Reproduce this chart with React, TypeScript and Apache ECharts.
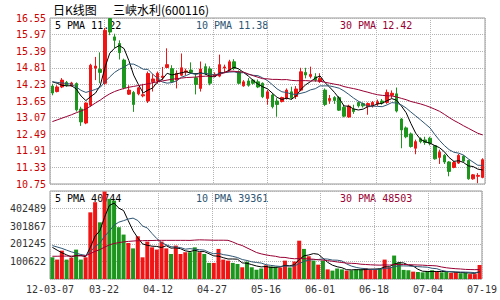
import React, { useEffect, useRef } from "react";
import * as echarts from "echarts";

// trading days 2012-03-07 .. 2012-07-19
const monthDays: [string, number[]][] = [
  ["03", [7, 8, 9, 12, 13, 14, 15, 16, 19, 20, 21, 22, 23, 26, 27, 28, 29, 30]],
  ["04", [5, 6, 9, 10, 11, 12, 13, 16, 17, 18, 19, 20, 23, 24, 25, 26, 27]],
  ["05", [2, 3, 4, 7, 8, 9, 10, 11, 14, 15, 16, 17, 18, 21, 22, 23, 24, 25, 28, 29, 30, 31]],
  ["06", [1, 4, 5, 6, 7, 8, 11, 12, 13, 14, 15, 18, 19, 20, 21, 25, 26, 27, 28, 29]],
  ["07", [2, 3, 4, 5, 6, 9, 10, 11, 12, 13, 16, 17, 18, 19]],
];

const xTickLabels = ["12-03-07", "03-22", "04-12", "04-27", "05-16", "06-01", "06-18", "07-04", "07-19"];
const priceTicks = ["10.75", "11.33", "11.91", "12.49", "13.07", "13.65", "14.23", "14.81", "15.39", "15.97", "16.55"];
const volTicks = ["", "100622", "201245", "301867", "402489", ""];

const opens = [
  14.17, 13.98, 14.14, 14.30, 14.18, 14.26, 13.37, 12.88, 13.50, 14.80,
  14.76, 14.27, 16.53, 15.89, 15.66, 15.08, 13.89, 13.95, 13.90, 13.83,
  13.65, 14.32, 14.35, 14.47, 14.82, 14.78, 14.38, 14.55, 14.66, 14.73,
  14.46, 14.09, 14.85, 14.77, 14.53, 14.52, 14.80, 14.73, 15.02, 14.67,
  14.18, 14.35, 14.38, 14.32, 14.27, 13.74, 13.86, 13.65, 13.63, 13.74,
  13.97, 13.81, 14.03, 14.65, 14.51, 14.50, 14.33, 14.03, 13.67, 13.77,
  13.77, 13.43, 13.09, 13.37, 13.60, 13.56, 13.45, 13.48, 13.55, 13.65,
  13.60, 13.85, 13.90, 13.02, 12.71, 12.50, 12.00, 12.33, 12.29, 12.35,
  12.09, 11.68, 11.75, 11.52, 11.33, 11.48, 11.72, 11.57, 10.93, 11.02, 10.98,
];
const closes = [
  13.93, 14.14, 14.38, 14.20, 14.28, 13.34, 12.92, 13.58, 14.90, 14.87,
  14.65, 16.12, 16.06, 15.77, 15.34, 14.11, 14.03, 13.53, 14.11, 13.87,
  14.61, 14.42, 14.62, 14.52, 14.92, 14.32, 14.61, 14.81, 14.70, 14.65,
  14.23, 14.77, 14.62, 14.27, 14.58, 14.92, 14.84, 15.02, 14.79, 14.27,
  14.32, 14.20, 14.27, 14.14, 13.80, 13.97, 13.45, 13.53, 13.77, 14.03,
  13.76, 14.07, 14.67, 14.56, 14.58, 14.38, 14.44, 13.53, 13.74, 13.67,
  13.33, 13.12, 13.47, 13.28, 13.48, 13.48, 13.56, 13.60, 13.62, 13.58,
  13.95, 13.92, 13.30, 12.64, 12.40, 12.06, 12.23, 12.23, 12.20, 12.17,
  11.63, 11.86, 11.52, 11.19, 11.50, 11.75, 11.55, 10.93, 11.07, 11.05, 11.60,
];
const highs = [
  14.25, 14.20, 14.45, 14.35, 14.32, 14.30, 13.45, 13.60, 14.95, 15.19,
  15.35, 16.20, 16.55, 16.00, 15.77, 15.13, 14.20, 14.00, 14.15, 14.25,
  14.68, 14.59, 14.68, 14.84, 15.49, 14.90, 14.72, 15.31, 14.78, 15.00,
  14.62, 15.03, 14.96, 14.86, 14.65, 15.27, 14.92, 15.09, 15.11, 14.72,
  14.38, 14.45, 14.42, 14.40, 14.30, 14.04, 13.92, 13.75, 13.80, 14.09,
  14.15, 14.17, 14.81, 14.81, 14.85, 14.62, 14.62, 14.09, 13.86, 13.82,
  13.82, 13.52, 13.52, 13.52, 13.65, 13.60, 13.60, 13.65, 13.70, 13.72,
  14.05, 14.02, 14.12, 13.05, 12.76, 12.55, 12.30, 12.38, 12.40, 12.40,
  12.10, 11.95, 11.80, 11.55, 11.55, 11.80, 11.76, 11.60, 11.10, 11.13, 11.65,
];
const lows = [
  13.85, 13.95, 14.10, 14.15, 14.15, 13.28, 12.78, 12.84, 13.45, 14.38,
  14.27, 14.20, 15.95, 15.50, 15.10, 14.06, 13.86, 13.27, 13.85, 13.78,
  13.58, 13.98, 14.25, 14.38, 14.80, 14.28, 14.09, 14.52, 14.55, 14.60,
  13.88, 13.98, 14.56, 14.20, 14.50, 14.48, 14.62, 14.68, 14.73, 14.23,
  14.15, 14.15, 14.22, 14.10, 13.75, 13.52, 13.39, 13.10, 13.60, 13.70,
  13.70, 13.72, 13.99, 14.44, 14.44, 14.32, 14.28, 13.47, 13.55, 13.55,
  13.30, 13.08, 13.06, 13.20, 13.42, 13.42, 13.17, 13.42, 13.48, 13.52,
  13.55, 13.75, 13.25, 12.00, 12.35, 12.02, 11.79, 12.17, 12.12, 12.10,
  11.60, 11.45, 11.45, 11.02, 11.30, 11.45, 11.50, 10.90, 10.90, 10.78, 10.95,
];
const volumes = [
  124000, 111000, 162000, 111000, 122000, 168000, 111000, 124000, 381000, 439000,
  324000, 500000, 458000, 448000, 296000, 254000, 206000, 175000, 244000, 124000,
  214000, 181000, 168000, 214000, 175000, 143000, 191000, 143000, 153000, 153000,
  181000, 153000, 143000, 92000, 92000, 172000, 111000, 105000, 92000, 86000,
  67000, 99000, 67000, 53000, 60000, 78000, 72000, 70000, 66000, 105000,
  66000, 100000, 219000, 172000, 130000, 105000, 82000, 105000, 55000, 48000,
  60000, 55000, 48000, 50000, 55000, 55000, 62000, 58000, 55000, 60000,
  111000, 67000, 134000, 95000, 52000, 50000, 42000, 40000, 38000, 45000,
  50000, 42000, 38000, 40000, 35000, 38000, 33000, 35000, 28000, 28000, 80000,
];

// moving-average values at the start of the window (history before 03-07)
const priceMa5Lead = [14.32, 14.27, 14.2, 14.18];
const priceMa10Lead = [14.32, 14.3, 14.28, 14.26, 14.24, 14.14, 14.02, 13.95, 14.0];
const priceMa30Lead = [
  12.93, 12.99, 13.05, 13.11, 13.17, 13.24, 13.3, 13.37, 13.47, 13.58,
  13.68, 13.8, 13.9, 13.98, 14.04, 14.09, 14.13, 14.16, 14.19, 14.22,
  14.25, 14.29, 14.32, 14.35, 14.38, 14.41, 14.43, 14.45, 14.47,
];
const volMa5Lead = [181000, 165000, 150000, 138000];
const volMa10Lead = [191000, 183000, 175000, 165000, 155000, 148000, 140000, 135000, 156000];
const volMa30Lead = [
  130000, 130000, 131000, 131000, 131000, 132000, 132000, 133000, 145000, 158000,
  168000, 182000, 195000, 203000, 208000, 212000, 215000, 217000, 219000, 219000,
  220000, 220000, 221000, 221000, 221000, 221000, 221000, 221000, 221000,
];

const priceLegend = ["5 PMA 11.22", "10 PMA 11.38", "30 PMA 12.42"];
const volLegend = ["5 PMA 40744", "10 PMA 39361", "30 PMA 48503"];

const UP = "#f01414";
const DOWN = "#1c961c";
const MA5C = "#000000";
const MA10C = "#2e5573";
const MA30C = "#990033";
const MONO = '"DejaVu Sans Mono", monospace';

function movingAvg(vals: number[], n: number, lead: number[]): number[] {
  return vals.map((_, i) => {
    if (i < n - 1) return lead[i];
    let s = 0;
    for (let k = i - n + 1; k <= i; k++) s += vals[k];
    return +(s / n).toFixed(n > 1000 ? 0 : 4);
  });
}

export default function App() {
  const ref = useRef<HTMLDivElement>(null);
  useEffect(() => {
    if (!ref.current) return;
    document.body.style.margin = "0";
    const chart = echarts.init(ref.current, null, { renderer: "svg" });
    const dates: string[] = [];
    monthDays.forEach(([m, ds]) => ds.forEach((d) => dates.push(m + "-" + String(d).padStart(2, "0"))));
    const candles = opens.map((o, i) => [o, closes[i], lows[i], highs[i]]);
    const volData = volumes.map((v, i) => ({
      value: v,
      itemStyle: { color: closes[i] >= opens[i] ? UP : DOWN },
    }));
    const split = { show: true, lineStyle: { color: "#b4b4b4", type: "dotted" as const, width: 1 } };
    const lineS = (name: string, data: number[], color: string, xi: number, yi: number) => ({
      type: "line",
      name,
      data,
      xAxisIndex: xi,
      yAxisIndex: yi,
      symbol: "none",
      showSymbol: false,
      silent: true,
      lineStyle: { color, width: 1 },
      z: 4,
    });
    const txt = (text: string, x: number, y: number, fill: string, font = `10px ${MONO}`) => ({
      type: "text",
      x,
      y,
      z: 0,
      style: { text, fill, font, verticalAlign: "middle" },
    });
    const option: any = {
      animation: false,
      backgroundColor: "#ffffff",
      grid: [
        { left: 50, top: 18, width: 435, height: 166, show: true, borderColor: "#999", borderWidth: 1 },
        { left: 50, top: 191, width: 435, height: 88, show: true, borderColor: "#999", borderWidth: 1 },
      ],
      xAxis: [
        { type: "category", gridIndex: 0, data: dates, boundaryGap: true, show: false },
        {
          type: "value", gridIndex: 0, min: 0, max: 8, interval: 1, position: "bottom",
          axisLine: { show: false }, axisTick: { show: false }, axisLabel: { show: false }, splitLine: split,
        },
        { type: "category", gridIndex: 1, data: dates, boundaryGap: true, show: false },
        {
          type: "value", gridIndex: 1, min: 0, max: 8, interval: 1, position: "bottom",
          axisLine: { show: false }, axisTick: { show: false }, splitLine: split,
          axisLabel: {
            show: true, margin: 5, color: "#333", fontFamily: MONO, fontSize: 10,
            showMinLabel: true, showMaxLabel: true,
            formatter: (v: number) => xTickLabels[Math.round(v)] ?? "",
          },
        },
      ],
      yAxis: [
        { type: "value", gridIndex: 0, min: 10.75, max: 16.55, show: false, position: "left" },
        {
          type: "value", gridIndex: 0, min: 0, max: 10, interval: 1, position: "left",
          axisLine: { show: false }, axisTick: { show: false }, splitLine: split,
          axisLabel: {
            margin: 4, color: "#cc0000", fontFamily: MONO, fontSize: 10,
            showMinLabel: true, showMaxLabel: true,
            formatter: (v: number) => priceTicks[Math.round(v)] ?? "",
          },
        },
        { type: "value", gridIndex: 1, min: 0, max: 503111, show: false, position: "left" },
        {
          type: "value", gridIndex: 1, min: 0, max: 5, interval: 1, position: "left",
          axisLine: { show: false }, axisTick: { show: false }, splitLine: split,
          axisLabel: {
            margin: 4, color: "#333", fontFamily: MONO, fontSize: 10,
            formatter: (v: number) => volTicks[Math.round(v)] ?? "",
          },
        },
      ],
      series: [
        {
          type: "candlestick",
          xAxisIndex: 0,
          yAxisIndex: 0,
          data: candles,
          barWidth: 3,
          silent: true,
          z: 3,
          itemStyle: { color: UP, color0: DOWN, borderColor: UP, borderColor0: DOWN, borderWidth: 1 },
        },
        lineS("ma5", movingAvg(closes, 5, priceMa5Lead), MA5C, 0, 0),
        lineS("ma10", movingAvg(closes, 10, priceMa10Lead), MA10C, 0, 0),
        lineS("ma30", movingAvg(closes, 30, priceMa30Lead), MA30C, 0, 0),
        {
          type: "bar",
          xAxisIndex: 2,
          yAxisIndex: 2,
          data: volData,
          barWidth: 4,
          silent: true,
          z: 3,
        },
        lineS("vma5", movingAvg(volumes, 5, volMa5Lead), MA5C, 2, 2),
        lineS("vma10", movingAvg(volumes, 10, volMa10Lead), MA10C, 2, 2),
        lineS("vma30", movingAvg(volumes, 30, volMa30Lead), MA30C, 2, 2),
      ],
      graphic: [
        txt("日K线图", 53, 9, "#000", '12px "Noto Sans CJK SC"'),
        txt("三峡水利(600116)", 113, 9, "#000", '12px "Noto Sans CJK SC"'),
        txt(priceLegend[0], 55, 25, MA5C),
        txt(priceLegend[1], 196, 25, MA10C),
        txt(priceLegend[2], 340, 25, MA30C),
        txt(volLegend[0], 55, 198, MA5C),
        txt(volLegend[1], 196, 198, MA10C),
        txt(volLegend[2], 340, 198, MA30C),
      ],
    };
    chart.setOption(option);
    return () => chart.dispose();
  }, []);
  return (
    <div
      ref={ref}
      style={{ position: "fixed", left: 0, top: 0, width: 500, height: 300, background: "#fff" }}
    />
  );
}
